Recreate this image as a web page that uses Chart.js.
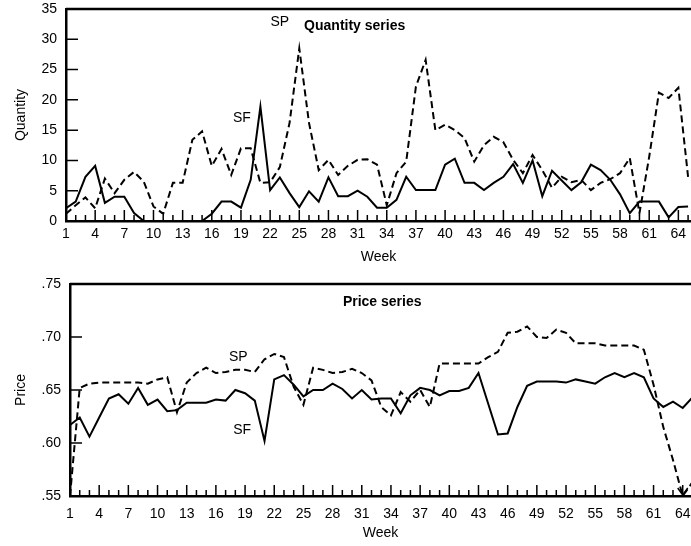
<!DOCTYPE html>
<html>
<head>
<meta charset="utf-8">
<script src="https://cdn.jsdelivr.net/npm/chart.js@4"></script>
<style>
  html, body { margin: 0; padding: 0; background: #fff; overflow: hidden; }
  .box { position: absolute; left: 0; width: 691px; height: 273px; }
</style>
</head>
<body>
<div class="box" style="top:0"><canvas id="qty"></canvas></div>
<div class="box" style="top:273px"><canvas id="price"></canvas></div>
<script>
const weeks = Array.from({ length: 65 }, (_, i) => i + 1);

const qtySF = [2.1, 3.2, 7.3, 9.1, 3.0, 4.0, 4.0, 1.3, 0, 0, 0, 0, 0, 0, 0, 1.2, 3.2, 3.2, 2.2, 6.8,
  18.9, 5.1, 7.2, 4.6, 2.3, 4.9, 3.2, 7.2, 4.1, 4.1, 5.0, 4.0, 2.2, 2.2, 3.5, 7.3, 5.1, 5.1, 5.1, 9.3,
  10.3, 6.3, 6.3, 5.1, 6.3, 7.3, 9.4, 6.3, 10.0, 4.1, 8.3, 6.7, 5.1, 6.4, 9.3, 8.4, 6.8, 4.4, 1.3, 3.2,
  3.2, 3.2, 0.6, 2.3, 2.4];
const qtySP = [1.2, 2.6, 3.9, 2.1, 7.0, 4.6, 6.8, 8.1, 6.5, 2.4, 1.2, 6.3, 6.3, 13.4, 14.8, 9.1, 11.9, 7.6, 12.0, 12.0,
  6.3, 6.4, 8.9, 16.2, 28.5, 16.2, 8.4, 10.1, 7.6, 9.1, 10.1, 10.2, 9.3, 2.6, 7.9, 9.8, 22.2, 26.6, 15.0, 15.9,
  15.0, 13.7, 9.8, 12.5, 13.9, 13.0, 10.1, 7.9, 10.9, 8.4, 5.5, 7.3, 6.4, 6.8, 5.1, 6.3, 6.9, 7.9, 10.4, 1.3,
  10.6, 21.2, 20.3, 22.0, 7.3];

const priceSF = [0.617, 0.624, 0.606, 0.624, 0.642, 0.646, 0.637, 0.652, 0.636, 0.641, 0.630, 0.631, 0.638, 0.638, 0.638, 0.641, 0.640, 0.650, 0.647, 0.640,
  0.602, 0.660, 0.664, 0.655, 0.644, 0.650, 0.650, 0.656, 0.651, 0.642, 0.650, 0.641, 0.642, 0.642, 0.628, 0.645, 0.652, 0.650, 0.645, 0.649,
  0.649, 0.652, 0.666, 0.637, 0.608, 0.609, 0.634, 0.654, 0.658, 0.658, 0.658, 0.657, 0.660, 0.658, 0.656, 0.662, 0.666, 0.662, 0.666, 0.662,
  0.642, 0.634, 0.639, 0.633, 0.643];
const priceSP = [0.550, 0.652, 0.656, 0.657, 0.657, 0.657, 0.657, 0.657, 0.656, 0.660, 0.662, 0.629, 0.657, 0.666, 0.671, 0.666, 0.667, 0.669, 0.669, 0.667,
  0.679, 0.684, 0.681, 0.653, 0.636, 0.671, 0.669, 0.666, 0.667, 0.670, 0.666, 0.659, 0.634, 0.626, 0.648, 0.639, 0.650, 0.634, 0.675, 0.675,
  0.675, 0.675, 0.675, 0.681, 0.686, 0.704, 0.705, 0.710, 0.700, 0.699, 0.707, 0.704, 0.694, 0.694, 0.694, 0.692, 0.692, 0.692, 0.692, 0.688,
  0.655, 0.615, 0.584, 0.550, 0.563];

const FONT = 'Liberation Sans, Arial, Helvetica, sans-serif';
Chart.defaults.font.family = FONT;
Chart.defaults.font.size = 14;
Chart.defaults.color = '#000';

// ticks drawn inside the plot, top frame line and the text notes
const frame = {
  id: 'frame',
  afterDraw(chart, args, opts) {
    const { ctx, chartArea: a, scales: { x, y } } = chart;
    ctx.save();
    ctx.strokeStyle = '#000';
    ctx.lineWidth = 1.5;
    ctx.beginPath();
    weeks.forEach(w => {
      const px = x.getPixelForValue(w);
      if (px > a.right) return;
      const len = (w - 1) % 3 === 0 ? 11 : 6;
      ctx.moveTo(px, a.bottom);
      ctx.lineTo(px, a.bottom - len);
    });
    y.ticks.forEach(t => {
      const py = y.getPixelForValue(t.value);
      ctx.moveTo(a.left, py);
      ctx.lineTo(a.left + 12, py);
    });
    ctx.stroke();
    ctx.lineWidth = 2.5;
    ctx.beginPath();
    ctx.moveTo(a.left, a.top);
    ctx.lineTo(a.right, a.top);
    ctx.stroke();

    if (opts.arrow) {
      const px = x.getPixelForValue(opts.arrow.x);
      const py = y.getPixelForValue(opts.arrow.y);
      ctx.lineWidth = 1.5;
      ctx.beginPath();
      ctx.moveTo(px - 5, py - 8);
      ctx.lineTo(px, py - 1);
      ctx.lineTo(px + 5, py - 8);
      ctx.stroke();
    }

    ctx.fillStyle = '#000';
    ctx.textAlign = 'center';
    ctx.textBaseline = 'middle';
    (opts.notes || []).forEach(n => {
      ctx.font = (n.bold ? 'bold ' : '') + '14px ' + FONT;
      ctx.fillText(n.text, x.getPixelForValue(n.x), y.getPixelForValue(n.y));
    });
    ctx.restore();
  }
};

function makeChart(id, sf, sp, o) {
  return new Chart(document.getElementById(id), {
    type: 'line',
    data: {
      datasets: [
        { label: 'SF', data: weeks.map((w, i) => ({ x: w, y: sf[i] })), borderColor: '#000', borderWidth: 2 },
        { label: 'SP', data: weeks.map((w, i) => ({ x: w, y: sp[i] })), borderColor: '#000', borderWidth: 2, borderDash: [7, 4] }
      ]
    },
    options: {
      responsive: true,
      maintainAspectRatio: false,
      animation: false,
      layout: { padding: { top: o.top, right: 0, left: 0, bottom: 0 } },
      elements: { point: { radius: 0 }, line: { tension: 0 } },
      plugins: {
        legend: { display: false },
        tooltip: { enabled: false },
        frame: { notes: o.notes, arrow: o.arrow }
      },
      scales: {
        x: {
          type: 'linear',
          min: 1,
          max: o.xmax,
          afterBuildTicks: s => { s.ticks = weeks.filter(w => (w - 1) % 3 === 0 && w <= s.max).map(v => ({ value: v })); },
          afterFit: s => { s.height = o.xh; s.paddingLeft = 0; s.paddingRight = 0; },
          grid: { display: false, drawTicks: false },
          border: { display: true, color: '#000', width: 2.5 },
          ticks: { padding: o.xpad, maxRotation: 0, autoSkip: false },
          title: { display: true, text: 'Week', padding: { top: 0, bottom: o.wpad } }
        },
        y: {
          min: o.ymin,
          max: o.ymax,
          afterFit: s => { s.width = o.yw; s.paddingTop = 0; s.paddingBottom = 0; },
          grid: { display: false, drawTicks: false },
          border: { display: true, color: '#000', width: 2.5 },
          ticks: { stepSize: o.step, padding: 9, callback: o.fmt },
          title: { display: true, text: o.ytitle, padding: { top: 13, bottom: 0 } }
        }
      }
    },
    plugins: [frame]
  });
}

makeChart('qty', qtySF, qtySP, {
  top: 9, xmax: 65.3, xh: 52, xpad: 5, wpad: 7, yw: 66,
  ymin: 0, ymax: 35, step: 5, ytitle: 'Quantity',
  fmt: v => v,
  notes: [
    { text: 'Quantity series', x: 30.7, y: 32.2, bold: true },
    { text: 'SP', x: 23, y: 32.9 },
    { text: 'SF', x: 19.1, y: 17 }
  ]
});

makeChart('price', priceSF, priceSP, {
  top: 11, xmax: 64.85, xh: 50, xpad: 10, wpad: 4, yw: 70,
  ymin: 0.55, ymax: 0.75, step: 0.05, ytitle: 'Price',
  fmt: v => v.toFixed(2).replace(/^0/, ''),
  arrow: { x: 64, y: 0.55 },
  notes: [
    { text: 'Price series', x: 33.1, y: 0.733, bold: true },
    { text: 'SP', x: 18.3, y: 0.681 },
    { text: 'SF', x: 18.7, y: 0.612 }
  ]
});
</script>
</body>
</html>
